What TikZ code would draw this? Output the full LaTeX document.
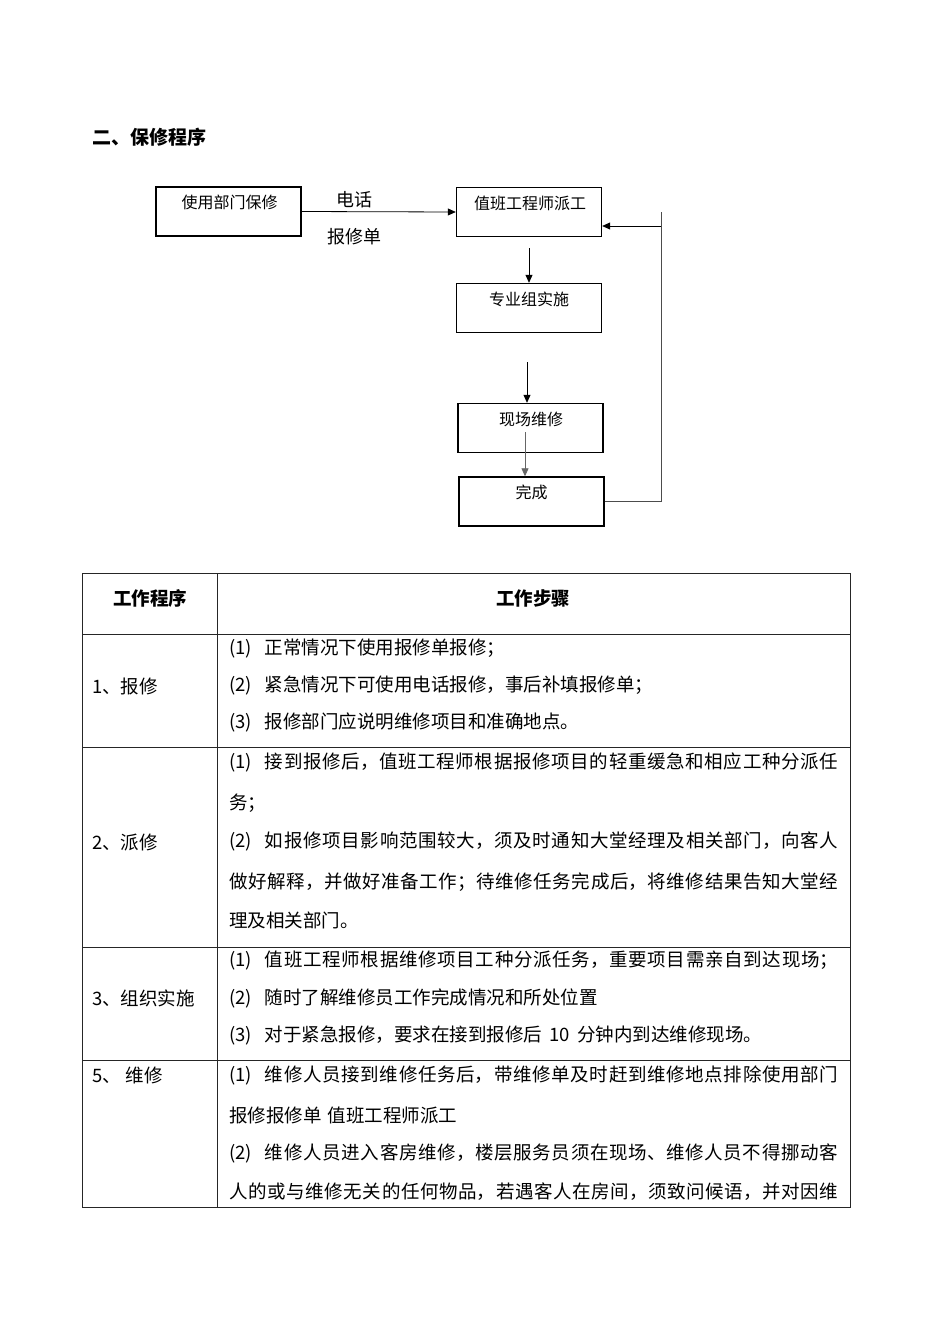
\documentclass[tikz,border=0pt]{standalone}
\usepackage{fontspec}
\setmainfont{Noto Sans CJK SC}
\usetikzlibrary{arrows.meta}
\XeTeXlinebreaklocale "zh"
\XeTeXlinebreakskip=0pt plus 4pt
\newcommand{\jtext}[1]{{\parfillskip=0pt\relax #1\par}}
\newcommand{\itm}[1]{(#1)\hspace{13pt}}
\begin{document}
\begin{tikzpicture}[x=1pt,y=-1pt,
  box/.style={draw=black,line width=1.4pt,minimum width=145pt,minimum height=49pt,inner sep=0pt},
  boxtxt/.style={font=\fontsize{16}{16}\selectfont,inner sep=0pt},
  lbl/.style={font=\fontsize{18}{18}\selectfont,inner sep=0pt},
  arr/.style={line width=0.8pt,-{Triangle[length=8pt,width=7pt]}},
  tline/.style={line width=1pt,draw=black!85},
  cell/.style={font=\fontsize{18.5}{18.5}\selectfont,inner sep=0pt,anchor=west},
  jcell/.style={cell,text width=609pt,align=justify},
  head/.style={font=\fontsize{18.5}{18.5}\selectfont\bfseries,inner sep=0pt}
]
\useasboundingbox (0,0) rectangle (950,1344);
\fill[white] (0,0) rectangle (950,1344);

% title
\node[font=\fontsize{19}{19}\selectfont\bfseries,inner sep=0pt,anchor=west] (title) at (92,137) {二、保修程序};

% flowchart boxes
\node[box] (b1) at (228.5,211.5) {};
\node[boxtxt] (t1) at (229.5,202) {使用部门保修};
\node[box] (b2) at (529,212) {};
\node[boxtxt] (t2) at (530,203) {值班工程师派工};
\node[box] (b3) at (529,308) {};
\node[boxtxt] (t3) at (529,299) {专业组实施};
\node[box] (b4) at (530.5,428) {};
\node[boxtxt] (t4) at (531,419) {现场维修};
\node[box] (b5) at (531.5,501.5) {};
\node[boxtxt] (t5) at (531.5,492) {完成};

% labels
\node[lbl] (l1) at (354,200) {电话};
\node[lbl] (l2) at (354,237) {报修单};

% connectors
\draw[arr] (b1.east) -- (b2.west);
\coordinate (c1) at (529,248);
\draw[arr] (c1) -- (c1 |- b3.north);
\coordinate (c2) at (527,362);
\draw[arr] (c2) -- (c2 |- b4.north);
\coordinate (c3) at (525,432);
\draw[arr,draw=black!60] (c3) -- (c3 |- b5.north);
\coordinate (fbtop) at (661,212);
\draw[line width=0.9pt,draw=black!70] (b5.east) -| (fbtop);
\coordinate (fbarr) at (661,226);
\draw[arr] (fbarr) -- (fbarr -| b2.east);

% table
\draw[tline] (82,573) rectangle (850,1207);
\draw[tline] (217,573) -- (217,1207);
\foreach \yy in {634,747,947,1060} \draw[tline] (82,\yy) -- (850,\yy);

\node[head] (h1) at (150,598) {工作程序};
\node[head] (h2) at (533,598) {工作步骤};

% row 1
\node[cell] (r1) at (92,686) {1、报修};
\node[cell] (r1a) at (229,649) {\itm{1}正常情况下使用报修单报修；};
\node[cell] (r1b) at (229,686) {\itm{2}紧急情况下可使用电话报修，事后补填报修单；};
\node[cell] (r1c) at (229,722) {\itm{3}报修部门应说明维修项目和准确地点。};

% row 2
\node[cell] (r2) at (92,842) {2、派修};
\node[jcell] (r2a) at (229,762) {\jtext{\itm{1}接到报修后，值班工程师根据报修项目的轻重缓急和相应工种分派任}};
\node[cell] (r2b) at (229,803) {务；};
\node[jcell] (r2c) at (229,841) {\jtext{\itm{2}如报修项目影响范围较大，须及时通知大堂经理及相关部门，向客人}};
\node[jcell] (r2d) at (229,882) {\jtext{做好解释，并做好准备工作；待维修任务完成后，将维修结果告知大堂经}};
\node[cell] (r2e) at (229,920) {理及相关部门。};

% row 3
\node[cell] (r3) at (92,998) {3、组织实施};
\node[jcell] (r3a) at (229,961) {\jtext{\itm{1}值班工程师根据维修项目工种分派任务，重要项目需亲自到达现场；}};
\node[cell] (r3b) at (229,998) {\itm{2}随时了解维修员工作完成情况和所处位置};
\node[cell] (r3c) at (229,1036) {\itm{3}对于紧急报修，要求在接到报修后\hspace{7pt}10\hspace{7pt}分钟内到达维修现场。};

% row 4
\node[cell] (r4) at (92,1075) {5、\hspace{5pt}维修};
\node[jcell] (r4a) at (229,1075) {\jtext{\itm{1}维修人员接到维修任务后，带维修单及时赶到维修地点排除使用部门}};
\node[cell] (r4b) at (229,1115) {报修报修单\hspace{6pt}值班工程师派工};
\node[jcell] (r4c) at (229,1153) {\jtext{\itm{2}维修人员进入客房维修，楼层服务员须在现场、维修人员不得挪动客}};
\node[jcell] (r4d) at (229,1192) {\jtext{人的或与维修无关的任何物品，若遇客人在房间，须致问候语，并对因维}};
\end{tikzpicture}
\end{document}
